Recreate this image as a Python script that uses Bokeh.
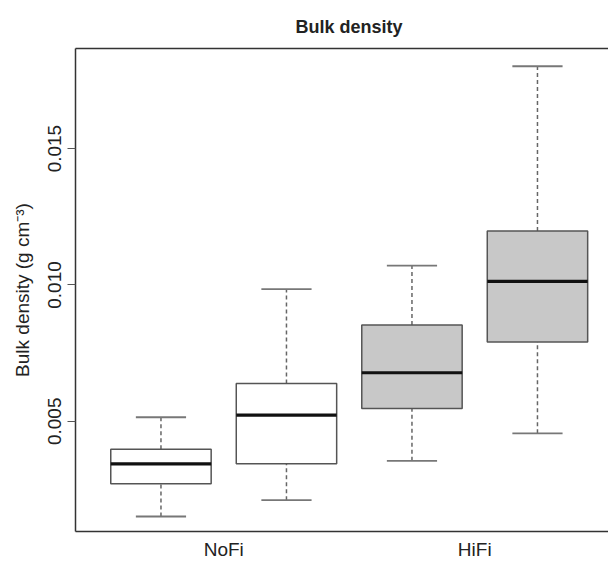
from bokeh.plotting import figure
from bokeh.models import Range1d, FixedTicker, LinearAxis
from bokeh.embed import file_html
from bokeh.resources import INLINE

# data
groups = ["NoFi", "NoFi", "HiFi", "HiFi"]
positions = [1, 2, 3, 4]
lower_whisker = [0.00151, 0.00211, 0.00355, 0.00456]
q1 = [0.00271, 0.00344, 0.00547, 0.00791]
median = [0.00344, 0.00523, 0.00678, 0.01013]
q3 = [0.00398, 0.00639, 0.00853, 0.01198]
upper_whisker = [0.00515, 0.00985, 0.01071, 0.01802]
fills = ["#ffffff", "#ffffff", "#c8c8c8", "#c8c8c8"]
group_tick_pos = [1.5, 3.5]
group_labels = ["NoFi", "HiFi"]
y_ticks = [0.005, 0.010, 0.015]

FONT = "Liberation Sans"
box_w = 0.8
cap_w = 0.4

p = figure(width=608, height=562, output_backend="svg", toolbar_location=None,
           x_range=Range1d(0.319, 4.566), y_range=Range1d(0.00096, 0.01867),
           min_border_left=75, min_border_right=0, min_border_top=48, min_border_bottom=27)
p.outline_line_color = None
p.grid.visible = False
p.background_fill_color = "white"
p.border_fill_color = "white"

p.title.text = "Bulk density"
p.title.align = "left"
p.title.offset = 220
p.title.standoff = 24
p.title.text_font = FONT
p.title.text_font_size = "18px"
p.title.text_font_style = "bold"
p.title.text_color = "#222222"

# whiskers (dashed)
xs = positions
p.segment(x0=xs, y0=q3, x1=xs, y1=upper_whisker, line_color="#666666", line_width=1.5, line_dash="4 3")
p.segment(x0=xs, y0=lower_whisker, x1=xs, y1=q1, line_color="#666666", line_width=1.5, line_dash="4 3")
# caps
p.segment(x0=[x - cap_w / 2 for x in xs], y0=upper_whisker, x1=[x + cap_w / 2 for x in xs], y1=upper_whisker,
          line_color="#777777", line_width=1.8)
p.segment(x0=[x - cap_w / 2 for x in xs], y0=lower_whisker, x1=[x + cap_w / 2 for x in xs], y1=lower_whisker,
          line_color="#777777", line_width=1.8)
# boxes
p.vbar(x=xs, width=box_w, bottom=q1, top=q3, fill_color=fills, line_color="#555555", line_width=1.5)
# medians
p.segment(x0=[x - box_w / 2 for x in xs], y0=median, x1=[x + box_w / 2 for x in xs], y1=median,
          line_color="#111111", line_width=3.2)

# axes
xa = p.xaxis[0]
xa.ticker = FixedTicker(ticks=group_tick_pos)
xa.major_label_overrides = {t: l for t, l in zip(group_tick_pos, group_labels)}
xa.major_tick_line_color = None
xa.major_tick_in = 0
xa.major_tick_out = 0
xa.minor_tick_line_color = None
xa.minor_tick_in = 0
xa.minor_tick_out = 0
xa.major_label_text_font = FONT
xa.major_label_text_font_size = "19px"
xa.major_label_text_color = "#222222"
xa.major_label_standoff = 7
xa.axis_line_color = "#333333"
xa.axis_line_width = 1.5

ya = p.yaxis[0]
ya.ticker = FixedTicker(ticks=y_ticks)
ya.major_label_overrides = {t: f"{t:.3f}" for t in y_ticks}
ya.major_label_orientation = "vertical"
ya.minor_tick_line_color = None
ya.minor_tick_in = 0
ya.minor_tick_out = 0
ya.major_tick_in = 0
ya.major_tick_out = 8
ya.major_tick_line_color = "#555555"
ya.major_tick_line_width = 1.2
ya.major_label_text_font = FONT
ya.major_label_text_font_size = "19px"
ya.major_label_text_color = "#222222"
ya.major_label_standoff = 6
ya.axis_line_color = "#333333"
ya.axis_line_width = 1.5
ya.axis_label = "Bulk density (g cm\u207b\u00b3)"
ya.axis_label_text_font = FONT
ya.axis_label_text_font_size = "19px"
ya.axis_label_text_font_style = "normal"
ya.axis_label_text_color = "#222222"
ya.axis_label_standoff = 13

top = LinearAxis(ticker=FixedTicker(ticks=[]), axis_line_color="#333333", axis_line_width=1.5,
                 major_tick_line_color=None, minor_tick_line_color=None,
                 major_tick_in=0, major_tick_out=0, minor_tick_in=0, minor_tick_out=0,
                 major_label_standoff=0, major_label_text_font_size="0px")
p.add_layout(top, "above")

open("out.html", "w").write(file_html(p, INLINE))
